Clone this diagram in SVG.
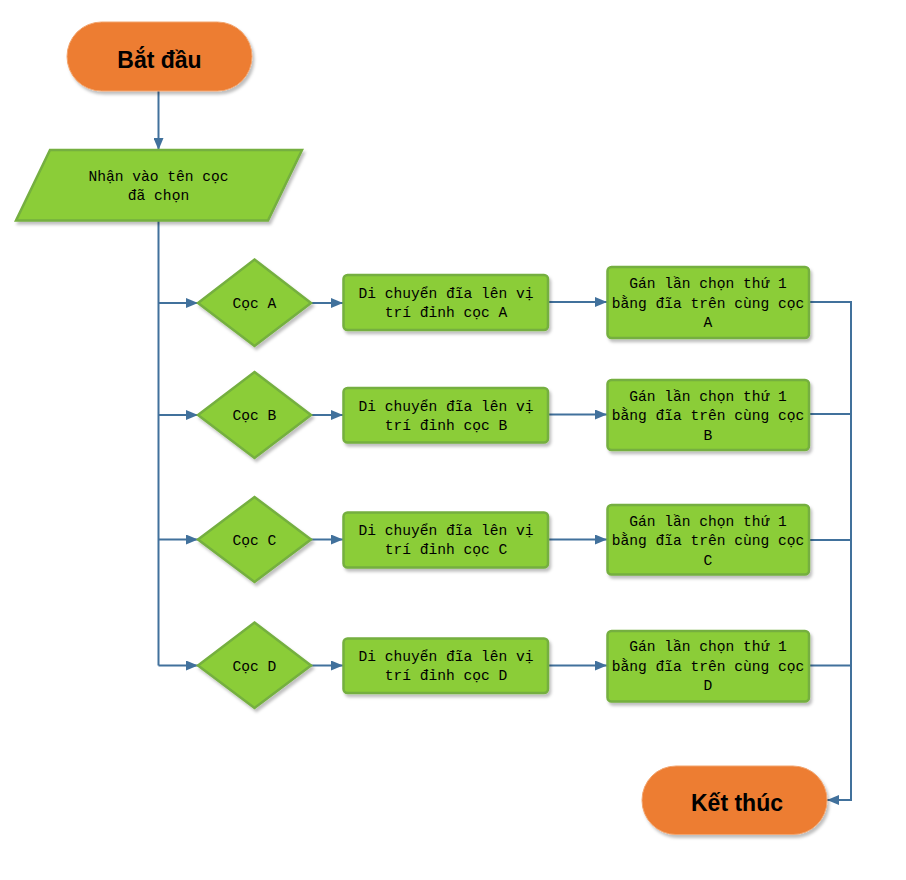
<svg xmlns="http://www.w3.org/2000/svg" width="906" height="880" viewBox="0 0 906 880">
<defs>
<filter id="sh" x="-10%" y="-10%" width="130%" height="140%">
<feDropShadow dx="2" dy="3" stdDeviation="1.5" flood-color="#000" flood-opacity="0.25"/>
</filter>
<marker id="ar" viewBox="0 0 12 10" refX="12" refY="5" markerWidth="12" markerHeight="10" markerUnits="userSpaceOnUse" orient="auto">
<path d="M0,0 L12,5 L0,10 z" fill="#41719C"/>
</marker>
</defs>
<style>
.term{fill:#ED7D31;stroke:#F2A46E;stroke-width:1;filter:url(#sh)}
.g{fill:#8BCD37;stroke:#74AF3F;stroke-width:2.5;filter:url(#sh)}
.tt{font-family:"Liberation Sans",Arial,sans-serif;font-weight:bold;font-size:23px;fill:#000;text-anchor:middle}
.m{font-family:"Liberation Mono","DejaVu Sans Mono",monospace;font-size:14.6px;fill:#000;text-anchor:middle}
.c{fill:none;stroke:#41719C;stroke-width:2}
</style>
<g id="connectors">
<path class="c" d="M158.5,91 V150" marker-end="url(#ar)"/>
<path class="c" d="M158.5,221 V665.5"/>
<path class="c" d="M158.5,303 H198" marker-end="url(#ar)"/>
<path class="c" d="M158.5,415 H198" marker-end="url(#ar)"/>
<path class="c" d="M158.5,539.5 H198" marker-end="url(#ar)"/>
<path class="c" d="M158.5,665.5 H198" marker-end="url(#ar)"/>
<path class="c" d="M311,303 H343" marker-end="url(#ar)"/>
<path class="c" d="M311,415 H343" marker-end="url(#ar)"/>
<path class="c" d="M311,539.5 H343" marker-end="url(#ar)"/>
<path class="c" d="M311,665.5 H343" marker-end="url(#ar)"/>
<path class="c" d="M548,302 H607" marker-end="url(#ar)"/>
<path class="c" d="M548,414.5 H607" marker-end="url(#ar)"/>
<path class="c" d="M548,539.5 H607" marker-end="url(#ar)"/>
<path class="c" d="M548,665.5 H607" marker-end="url(#ar)"/>
<path class="c" d="M809,302 H851 V800 H827" marker-end="url(#ar)"/>
<path class="c" d="M809,414 H851"/>
<path class="c" d="M809,540 H851"/>
<path class="c" d="M809,665.5 H851"/>
</g>
<g id="start">
<rect class="term" x="67" y="22" width="185" height="69" rx="34.5"/>
<text class="tt" x="159.5" y="68">Bắt đầu</text>
</g>
<g id="input">
<polygon class="g" points="50,150 302,150 268,220.5 16,220.5"/>
<text class="m" x="158.5" y="181">Nhận vào tên cọc</text>
<text class="m" x="158.5" y="200">đã chọn</text>
</g>
<g id="dA">
<polygon class="g" points="254.5,259.5 311,303 254.5,346 198,303"/>
<text class="m" x="254.5" y="308">Cọc A</text>
</g>
<g id="dB">
<polygon class="g" points="254.5,372 311,415 254.5,458 198,415"/>
<text class="m" x="254.5" y="420">Cọc B</text>
</g>
<g id="dC">
<polygon class="g" points="254.5,497 311,539.5 254.5,582 198,539.5"/>
<text class="m" x="254.5" y="544.5">Cọc C</text>
</g>
<g id="dD">
<polygon class="g" points="254.5,622.5 311,665.5 254.5,708 198,665.5"/>
<text class="m" x="254.5" y="670.5">Cọc D</text>
</g>
<g id="mA">
<rect class="g" x="343.5" y="275" width="204.5" height="55" rx="4"/>
<text class="m" x="446" y="298">Di chuyển đĩa lên vị</text>
<text class="m" x="446" y="317">trí đỉnh cọc A</text>
</g>
<g id="mB">
<rect class="g" x="343.5" y="388" width="204.5" height="54.5" rx="4"/>
<text class="m" x="446" y="410.5">Di chuyển đĩa lên vị</text>
<text class="m" x="446" y="429.5">trí đỉnh cọc B</text>
</g>
<g id="mC">
<rect class="g" x="343.5" y="512.5" width="204.5" height="55" rx="4"/>
<text class="m" x="446" y="535">Di chuyển đĩa lên vị</text>
<text class="m" x="446" y="554">trí đỉnh cọc C</text>
</g>
<g id="mD">
<rect class="g" x="343.5" y="638.5" width="204.5" height="54.5" rx="4"/>
<text class="m" x="446" y="661">Di chuyển đĩa lên vị</text>
<text class="m" x="446" y="680">trí đỉnh cọc D</text>
</g>
<g id="gA">
<rect class="g" x="607.5" y="267" width="201.5" height="71" rx="4"/>
<text class="m" x="708" y="288">Gán lần chọn thứ 1</text>
<text class="m" x="708" y="307.5">bằng đĩa trên cùng cọc</text>
<text class="m" x="708" y="327">A</text>
</g>
<g id="gB">
<rect class="g" x="607.5" y="380" width="201.5" height="70" rx="4"/>
<text class="m" x="708" y="400.5">Gán lần chọn thứ 1</text>
<text class="m" x="708" y="420">bằng đĩa trên cùng cọc</text>
<text class="m" x="708" y="439.5">B</text>
</g>
<g id="gC">
<rect class="g" x="607.5" y="505" width="201.5" height="69.5" rx="4"/>
<text class="m" x="708" y="525.5">Gán lần chọn thứ 1</text>
<text class="m" x="708" y="545">bằng đĩa trên cùng cọc</text>
<text class="m" x="708" y="564.5">C</text>
</g>
<g id="gD">
<rect class="g" x="607.5" y="631" width="201.5" height="70.5" rx="4"/>
<text class="m" x="708" y="651">Gán lần chọn thứ 1</text>
<text class="m" x="708" y="670.5">bằng đĩa trên cùng cọc</text>
<text class="m" x="708" y="690">D</text>
</g>
<g id="end">
<rect class="term" x="642" y="766" width="185" height="68.5" rx="34"/>
<text class="tt" x="737" y="811">Kết thúc</text>
</g>
</svg>
